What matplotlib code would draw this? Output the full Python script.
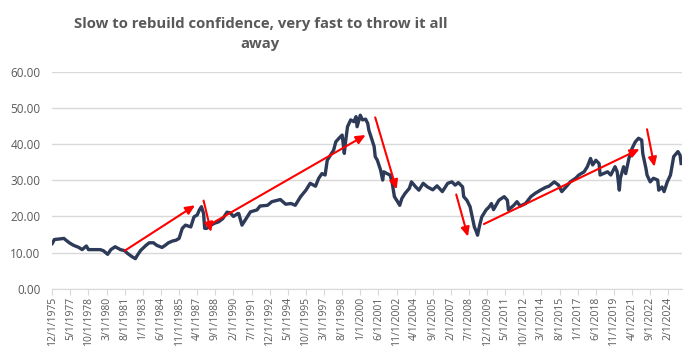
import matplotlib
matplotlib.use("Agg")
import matplotlib.pyplot as plt
import pandas as pd

# monthly readings (date, value)
dates = [
    "1975-12", "1976-02", "1976-11", "1977-01", "1977-04", "1977-08", "1978-01", "1978-04",
    "1978-08", "1978-10", "1979-03", "1979-09", "1979-12", "1980-04", "1980-07", "1980-11",
    "1981-04", "1981-08", "1981-10", "1982-03", "1982-06", "1982-08", "1982-11", "1983-04",
    "1983-07", "1983-11", "1984-02", "1984-07", "1984-10", "1985-01", "1985-05", "1985-08",
    "1985-11", "1986-02", "1986-05", "1986-10", "1987-01", "1987-04", "1987-06", "1987-08",
    "1987-10", "1987-11", "1988-01", "1988-05", "1988-08", "1988-12", "1989-04", "1989-08",
    "1989-11", "1990-02", "1990-06", "1990-07", "1990-10", "1991-01", "1991-06", "1991-12",
    "1992-03", "1992-10", "1993-02", "1993-10", "1994-03", "1994-08", "1994-12", "1995-05",
    "1995-10", "1996-02", "1996-07", "1996-10", "1997-01", "1997-04", "1997-06", "1997-09",
    "1997-12", "1998-02", "1998-05", "1998-08", "1998-10", "1998-11", "1999-01", "1999-04",
    "1999-07", "1999-09", "1999-10", "2000-01", "2000-03", "2000-06", "2000-08", "2000-09",
    "2000-12", "2001-02", "2001-03", "2001-05", "2001-08", "2001-10", "2001-11", "2002-02",
    "2002-05", "2002-07", "2002-09", "2002-12", "2003-02", "2003-04", "2003-07", "2003-11",
    "2004-01", "2004-05", "2004-08", "2004-12", "2005-04", "2005-09", "2006-01", "2006-06",
    "2006-11", "2007-03", "2007-06", "2007-09", "2008-01", "2008-02", "2008-05", "2008-08",
    "2008-10", "2008-12", "2009-02", "2009-03", "2009-05", "2009-07", "2009-11", "2010-02",
    "2010-04", "2010-06", "2010-11", "2011-04", "2011-07", "2011-08", "2012-01", "2012-04",
    "2012-07", "2012-12", "2013-05", "2013-09", "2014-02", "2014-07", "2014-10", "2015-03",
    "2015-07", "2015-10", "2016-02", "2016-06", "2016-11", "2017-02", "2017-07", "2017-10",
    "2018-01", "2018-03", "2018-06", "2018-09", "2018-10", "2019-01", "2019-05", "2019-08",
    "2019-12", "2020-02", "2020-04", "2020-05", "2020-08", "2020-10", "2021-01", "2021-04",
    "2021-07", "2021-10", "2022-01", "2022-02", "2022-05", "2022-06", "2022-09", "2022-12",
    "2023-04", "2023-05", "2023-08", "2023-10", "2024-01", "2024-04", "2024-07", "2024-11",
    "2025-01", "2025-02",
]
values = [
    12.5, 13.6, 13.9, 13.4, 12.7, 12.0, 11.4, 10.8,
    11.8, 10.8, 10.8, 10.8, 10.5, 9.5, 10.8, 11.6,
    10.8, 10.5, 9.9, 8.8, 8.3, 9.3, 10.6, 12.0,
    12.7, 12.7, 12.0, 11.4, 12.0, 12.7, 13.2, 13.4,
    13.9, 16.7, 17.6, 17.1, 19.9, 20.4, 21.8, 22.7,
    20.8, 16.7, 16.7, 17.6, 18.1, 18.5, 19.4, 21.2,
    21.0, 20.0, 20.8, 20.8, 17.6, 19.0, 21.3, 21.8,
    22.9, 23.1, 24.1, 24.7, 23.4, 23.6, 23.1, 25.5,
    27.3, 29.2, 28.4, 30.6, 31.9, 31.5, 35.6, 37.0,
    38.4, 40.7, 41.7, 42.6, 37.5, 40.3, 44.9, 46.8,
    46.3, 47.7, 44.9, 48.1, 46.8, 47.0, 45.8, 44.0,
    41.2, 39.4, 36.6, 35.6, 32.9, 30.1, 32.4, 31.9,
    31.5, 29.2, 25.5, 24.1, 23.1, 25.0, 26.4, 27.8,
    29.6, 28.2, 27.3, 29.2, 28.2, 27.4, 28.5, 26.9,
    29.2, 29.6, 28.7, 29.4, 28.2, 25.5, 24.5, 22.7,
    19.9, 17.1, 15.7, 14.8, 17.6, 19.9, 21.8, 22.7,
    23.6, 21.9, 24.5, 25.5, 24.5, 21.8, 23.1, 24.1,
    22.9, 23.6, 25.5, 26.4, 27.3, 28.1, 28.4, 29.6,
    28.7, 26.9, 28.2, 29.6, 30.6, 31.5, 32.4, 33.8,
    36.1, 34.3, 35.6, 34.7, 31.5, 31.9, 32.4, 31.5,
    33.8, 32.4, 27.3, 30.6, 33.8, 31.9, 36.1, 38.9,
    40.7, 41.7, 41.2, 37.5, 33.3, 31.5, 29.6, 30.6,
    30.1, 27.3, 28.2, 26.9, 29.6, 31.5, 36.6, 38.0,
    37.0, 34.7,
]

# red trend arrows: (start date, start value, end date, end value)
arrows = [
    ("1981-08", 10.5, "1987-02", 23.1),
    ("1987-10", 24.4, "1988-05", 15.7),
    ("1988-03", 17.6, "2000-06", 42.6),
    ("2001-03", 47.5, "2002-11", 27.5),
    ("2007-07", 26.1, "2008-06", 14.4),
    ("2009-09", 17.9, "2021-11", 38.7),
    ("2022-06", 44.2, "2023-01", 33.8),
]

start = pd.Period("1975-12", freq="M")
end = pd.Period("2025-02", freq="M")


def month_idx(d):
    return (pd.Period(d, freq="M") - start).n


x = [month_idx(d) for d in dates]

# category labels every 17 months, Excel style m/1/yyyy
tick_pos = list(range(0, (end - start).n + 1, 17))
tick_labels = []
for p in tick_pos:
    per = start + p
    tick_labels.append(f"{per.month}/1/{per.year}")

plt.rcParams["font.family"] = ["Open Sans", "DejaVu Sans"]

fig = plt.figure(figsize=(6.94, 3.58), dpi=100)
ax = fig.add_axes([0.0745, 0.194, 0.9085, 0.604])

ax.plot(x, values, color="#2d3a58", linewidth=2.4, solid_joinstyle="round", zorder=3)

for d0, v0, d1, v1 in arrows:
    ax.annotate(
        "", xy=(month_idx(d1), v1), xytext=(month_idx(d0), v0),
        arrowprops=dict(arrowstyle="-|>,head_length=0.55,head_width=0.25",
                        color="#ff0000", lw=1.5, shrinkA=0, shrinkB=0),
        zorder=4,
    )

ax.set_xlim(-0.5, (end - start).n + 1)
ax.set_ylim(0, 60)
ax.set_yticks(range(0, 61, 10))
ax.set_yticklabels([f"{v:.2f}" for v in range(0, 61, 10)], fontsize=8.5, color="#595959")
ax.set_xticks(tick_pos)
ax.set_xticklabels(tick_labels, rotation=90, fontsize=7.5, color="#595959")

ax.grid(axis="y", color="#d9d9d9", linewidth=1)
ax.set_axisbelow(True)
for s in ["top", "right", "left"]:
    ax.spines[s].set_visible(False)
ax.spines["bottom"].set_color("#d9d9d9")
ax.tick_params(axis="y", length=0, pad=8)
ax.tick_params(axis="x", length=4, color="#d9d9d9", pad=2)

fig.text(0.375, 0.906, "Slow to rebuild confidence, very fast to throw it all\naway",
         ha="center", va="center", fontsize=10.7, fontweight="bold", color="#595959",
         linespacing=1.55)

plt.savefig("out.png", dpi=100)
plt.close("all")
